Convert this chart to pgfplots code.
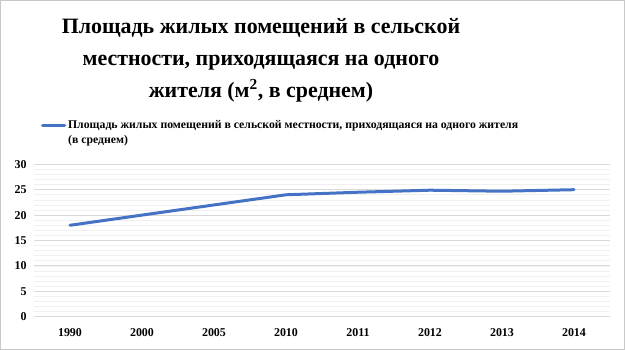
\documentclass[border=0pt]{standalone}
\usepackage{fontspec}
\setmainfont{Liberation Serif}
\usepackage{pgfplots}
\pgfplotsset{compat=1.18}
\definecolor{lineblue}{HTML}{4472C4}
\definecolor{majgrid}{HTML}{D9D9D9}
\definecolor{mingrid}{HTML}{F0F0F0}
\definecolor{framegray}{HTML}{C8C8C8}
\begin{document}
\begin{tikzpicture}
\begin{axis}[
  at={(34bp,33.3bp)}, anchor=south west,
  scale only axis, width=576bp, height=152.4bp,
  xmin=-0.5, xmax=7.5, ymin=0, ymax=30,
  xtick={0,...,7},
  xticklabels={1990,2000,2005,2010,2011,2012,2013,2014},
  ytick={0,5,...,30},
  minor ytick={0,1,...,30},
  axis line style={draw=none},
  major tick length=0pt, minor tick length=0pt,
  ymajorgrids, yminorgrids,
  major grid style={majgrid, line width=0.9bp},
  minor grid style={mingrid, line width=0.7bp},
  tick label style={font=\fontsize{12}{14}\selectfont\bfseries},
  /pgf/number format/assume math mode=true,
  yticklabel style={xshift=-4bp},
  xticklabel style={yshift=-8bp},
  legend style={at={(0.012,1.30)}, anchor=north west, draw=none, fill=none,
    font=\fontsize{11.8}{15}\selectfont\bfseries, legend cell align=left,
    inner sep=0pt},
  legend image code/.code={\draw[#1, line width=3bp] (0bp,0bp) -- (22bp,0bp);},
]
\addplot[lineblue, line width=3bp, line cap=round, line join=round] coordinates {
  (0,18) (1,20) (2,22) (3,24) (4,24.5) (5,24.9) (6,24.7) (7,25)
};
\addlegendentry{\parbox[t]{470bp}{Площадь жилых помещений в сельской местности, приходящаяся на одного жителя\\(в среднем)}}
\end{axis}
\node[align=center, font=\fontsize{22}{32}\selectfont\bfseries, anchor=base] at (261bp,252.5bp) {Площадь жилых помещений в сельской\\местности, приходящаяся на одного\\жителя (м\textsuperscript{2}, в среднем)};
\draw[framegray, line width=1bp] (0.5bp,0.5bp) rectangle (624.5bp,349.5bp);
\end{tikzpicture}
\end{document}
